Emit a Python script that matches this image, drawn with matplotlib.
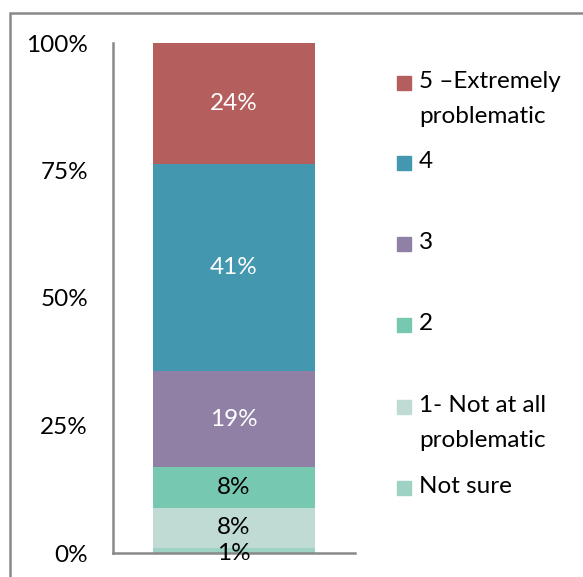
import numpy as np
import matplotlib
matplotlib.use("Agg")
import matplotlib.pyplot as plt
from matplotlib.patches import Rectangle

plt.rcParams['font.family'] = ['Lato', 'DejaVu Sans']

# Ratings, bottom of the stack first
categories = ["Not sure", "1- Not at all\nproblematic", "2", "3", "4",
              "5 \u2013Extremely\nproblematic"]
values = [1, 8, 8, 19, 41, 24]
colors = ["#9dd2c5", "#bfdbd3", "#76c8b1", "#9080a6", "#4397af", "#b45f5e"]
label_colors = ["black", "black", "black", "white", "white", "white"]
yticks = [0, 25, 50, 75, 100]
ytick_labels = ["0%", "25%", "50%", "75%", "100%"]

vals = np.array(values, dtype=float)
shares = vals / vals.sum() * 100

fig = plt.figure(figsize=(5.83, 5.77), dpi=100)
ax = fig.add_axes([113 / 583, 1 - 553 / 577, 242 / 583, 510 / 577])

FS = 17.5

bottom = 0
for i in range(len(values)):
    ax.bar(0, shares[i], width=1.0, bottom=bottom, color=colors[i],
           edgecolor="none")
    y = bottom + shares[i] / 2
    if i == 0:
        y -= 0.6
    ax.text(0, y, f"{values[i]}%", ha="center",
            va="center", fontsize=FS, color=label_colors[i])
    bottom += shares[i]

ax.set_xlim(-0.75, 0.75)
ax.set_ylim(0, 100)
ax.set_xticks([])
ax.set_yticks(yticks)
ax.set_yticklabels(ytick_labels, fontsize=FS)
ax.tick_params(axis="y", length=0, pad=18)
for side in ["top", "right"]:
    ax.spines[side].set_visible(False)
for side in ["left", "bottom"]:
    ax.spines[side].set_color("#898989")
    ax.spines[side].set_linewidth(1.8)

# legend, top entry first
legend_y = [83, 163, 244, 325, 407, 488]
for k, y in enumerate(legend_y):
    i = len(values) - 1 - k
    fig.patches.append(Rectangle((397 / 583, 1 - (y + 7) / 577), 14 / 583,
                                 14 / 577, transform=fig.transFigure,
                                 color=colors[i]))
    fig.text(419 / 583, 1 - (y - 12) / 577, categories[i], ha="left",
             va="top", fontsize=FS, linespacing=1.85)

# outer chart border
fig.patches.append(Rectangle((10 / 583, -0.05), 1.1, 1 - 13 / 577 + 0.05,
                             transform=fig.transFigure, fill=False,
                             edgecolor="#898989", linewidth=1.8))

fig.savefig("out.png", dpi=100)
